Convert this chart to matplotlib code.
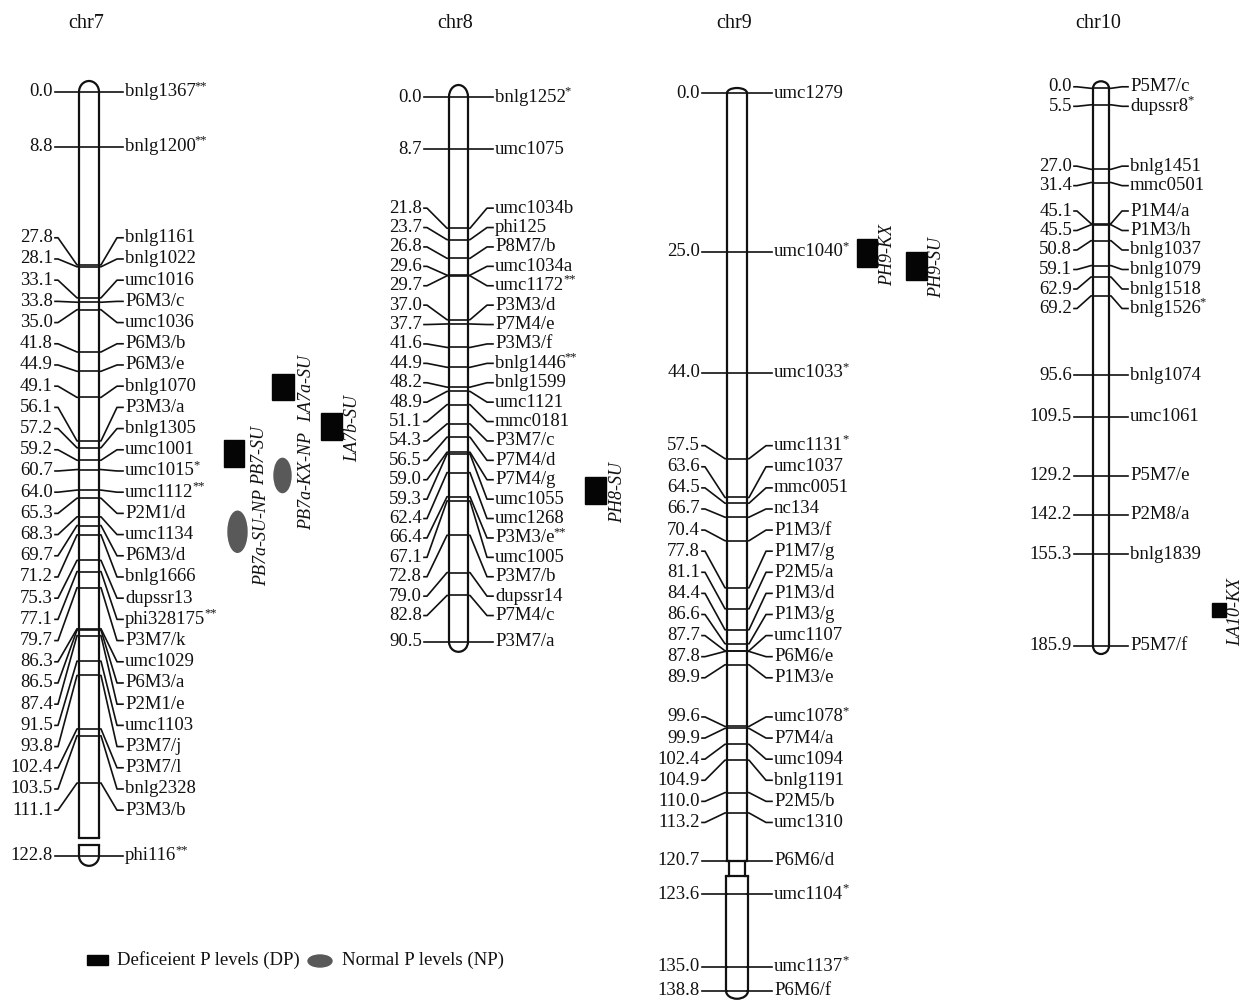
import matplotlib
matplotlib.use("Agg")
import matplotlib.pyplot as plt
from matplotlib.patches import Arc, Rectangle, Ellipse

plt.rcParams['font.family'] = ['Liberation Serif', 'DejaVu Serif']

# ---- map data (cM, marker name, significance stars) ----
chr7_pos = [0.0, 8.8, 27.8, 28.1, 33.1, 33.8, 35.0, 41.8, 44.9, 49.1, 56.1, 57.2, 59.2, 60.7,
            64.0, 65.3, 68.3, 69.7, 71.2, 75.3, 77.1, 79.7, 86.3, 86.5, 87.4, 91.5, 93.8,
            102.4, 103.5, 111.1, 122.8]
chr7_names = ['bnlg1367', 'bnlg1200', 'bnlg1161', 'bnlg1022', 'umc1016', 'P6M3/c', 'umc1036',
              'P6M3/b', 'P6M3/e', 'bnlg1070', 'P3M3/a', 'bnlg1305', 'umc1001', 'umc1015',
              'umc1112', 'P2M1/d', 'umc1134', 'P6M3/d', 'bnlg1666', 'dupssr13', 'phi328175',
              'P3M7/k', 'umc1029', 'P6M3/a', 'P2M1/e', 'umc1103', 'P3M7/j', 'P3M7/l',
              'bnlg2328', 'P3M3/b', 'phi116']
chr7_stars = ['**', '**', '', '', '', '', '', '', '', '', '', '', '', '*', '**', '', '', '', '',
              '', '**', '', '', '', '', '', '', '', '', '', '**']

chr8_pos = [0.0, 8.7, 21.8, 23.7, 26.8, 29.6, 29.7, 37.0, 37.7, 41.6, 44.9, 48.2, 48.9, 51.1,
            54.3, 56.5, 59.0, 59.3, 62.4, 66.4, 67.1, 72.8, 79.0, 82.8, 90.5]
chr8_names = ['bnlg1252', 'umc1075', 'umc1034b', 'phi125', 'P8M7/b', 'umc1034a', 'umc1172',
              'P3M3/d', 'P7M4/e', 'P3M3/f', 'bnlg1446', 'bnlg1599', 'umc1121', 'mmc0181',
              'P3M7/c', 'P7M4/d', 'P7M4/g', 'umc1055', 'umc1268', 'P3M3/e', 'umc1005',
              'P3M7/b', 'dupssr14', 'P7M4/c', 'P3M7/a']
chr8_stars = ['*', '', '', '', '', '', '**', '', '', '', '**', '', '', '', '', '', '', '', '',
              '**', '', '', '', '', '']

chr9_pos = [0.0, 25.0, 44.0, 57.5, 63.6, 64.5, 66.7, 70.4, 77.8, 81.1, 84.4, 86.6, 87.7, 87.8,
            89.9, 99.6, 99.9, 102.4, 104.9, 110.0, 113.2, 120.7, 123.6, 135.0, 138.8]
chr9_names = ['umc1279', 'umc1040', 'umc1033', 'umc1131', 'umc1037', 'mmc0051', 'nc134',
              'P1M3/f', 'P1M7/g', 'P2M5/a', 'P1M3/d', 'P1M3/g', 'umc1107', 'P6M6/e', 'P1M3/e',
              'umc1078', 'P7M4/a', 'umc1094', 'bnlg1191', 'P2M5/b', 'umc1310', 'P6M6/d',
              'umc1104', 'umc1137', 'P6M6/f']
chr9_stars = ['', '*', '*', '*', '', '', '', '', '', '', '', '', '', '', '', '*', '', '', '',
              '', '', '', '*', '*', '']

chr10_pos = [0.0, 5.5, 27.0, 31.4, 45.1, 45.5, 50.8, 59.1, 62.9, 69.2, 95.6, 109.5, 129.2,
             142.2, 155.3, 185.9]
chr10_names = ['P5M7/c', 'dupssr8', 'bnlg1451', 'mmc0501', 'P1M4/a', 'P1M3/h', 'bnlg1037',
               'bnlg1079', 'bnlg1518', 'bnlg1526', 'bnlg1074', 'umc1061', 'P5M7/e', 'P2M8/a',
               'bnlg1839', 'P5M7/f']
chr10_stars = ['', '*', '', '', '', '', '', '', '', '*', '', '', '', '', '', '']

# ---- QTL (chromosome, name, DP/NP, start cM, end cM) ----
qtl_chrom = ['chr7', 'chr7', 'chr7', 'chr7', 'chr7', 'chr8', 'chr9', 'chr9', 'chr10']
qtl_names = ['PB7-SU', 'LA7a-SU', 'LA7b-SU', 'PB7a-KX-NP', 'PB7a-SU-NP', 'PH8-SU', 'PH9-KX',
             'PH9-SU', 'LA10-KX']
qtl_kind = ['DP', 'DP', 'DP', 'NP', 'NP', 'DP', 'DP', 'DP', 'DP']
qtl_start = [56.0, 45.3, 51.6, 58.9, 67.4, 63.1, 23.0, 25.0, 171.6]
qtl_end = [60.3, 49.5, 56.0, 64.4, 74.0, 67.6, 27.4, 29.4, 176.2]

legend_labels = ['Deficeient P levels (DP)', 'Normal P levels (NP)']

# ---- layout (pixels) ----
layout = {
    'chr7': dict(pos=chr7_pos, names=chr7_names, stars=chr7_stars, left=79, w=20, top=92,
                 scale=6.22, gap=21.2, arm=24, cap=(11, 10),
                 segs=[(0.0, 120.0, 0), (121.0, 122.8, 0)], join=False),
    'chr8': dict(pos=chr8_pos, names=chr8_names, stars=chr8_stars, left=449, w=19, top=97,
                 scale=6.02, gap=19.4, arm=25, cap=(12, 10),
                 segs=[(0.0, 90.5, 0)], join=False),
    'chr9': dict(pos=chr9_pos, names=chr9_names, stars=chr9_stars, left=727, w=20, top=93,
                 scale=6.36, gap=21.1, arm=25, cap=(5, 8),
                 segs=[(0.0, 120.7, 0), (120.7, 138.8, 15)], join=True),
    'chr10': dict(pos=chr10_pos, names=chr10_names, stars=chr10_stars, left=1093, w=16,
                  top=88.3, scale=3.0, gap=19.5, arm=19, cap=(7, 8),
                  segs=[(0.0, 185.9, 0)], join=False),
}
qtl_x = [224, 272, 321, 274, 228, 585, 857, 906, 1212]
qtl_w = [20, 22, 21, 17, 19, 21, 20, 21, 14]
qtl_label_x = [260, 307, 353, 307, 262, 618, 888, 937, 1236]

INK = '#111111'
GREY = '#595959'
FS = 13.5


def cm_to_y(c, cm):
    off = 0
    for s0, s1, o in c['segs']:
        if cm > s0 or s0 == 0.0:
            off = o
    if cm <= c['segs'][0][1]:
        off = c['segs'][0][2]
    return c['top'] + cm * c['scale'] + off


def spread(desired, gap):
    # merge overlapping groups, each centred on the middle of its range
    groups = [[i] for i in range(len(desired))]

    def start(g):
        mid = (desired[g[0]] + desired[g[-1]]) / 2
        return mid - (len(g) - 1) * gap / 2

    merged = True
    while merged:
        merged = False
        for k in range(len(groups) - 1):
            end_a = start(groups[k]) + (len(groups[k]) - 1) * gap
            if start(groups[k + 1]) - end_a < gap - 1e-6:
                groups[k] = groups[k] + groups[k + 1]
                del groups[k + 1]
                merged = True
                break
    out = [0.0] * len(desired)
    for g in groups:
        s = start(g)
        for j, i in enumerate(g):
            out[i] = s + j * gap
    return out


fig = plt.figure(figsize=(12.46, 10), dpi=100)
ax = fig.add_axes([0, 0, 1, 1])
ax.set_xlim(0, 1246)
ax.set_ylim(1000, 0)
ax.axis('off')

lw_bar = 1.6
lw_tick = 1.2

for name, c in layout.items():
    bl = c['left']
    br = bl + c['w']
    cx = (bl + br) / 2
    ax.text(cx - 3, 23, name, fontsize=14.5, color=INK, ha='center', va='center')

    # chromosome outline, segment by segment
    segs = c['segs']
    for k, (s0, s1, o) in enumerate(segs):
        y0 = c['top'] + s0 * c['scale'] + o
        y1 = c['top'] + s1 * c['scale'] + o
        l, r = bl, br
        if k > 0 and c['join']:
            l, r = bl - 1, br + 1
        ax.plot([l, l], [y0, y1], color=INK, lw=lw_bar, solid_capstyle='butt')
        ax.plot([r, r], [y0, y1], color=INK, lw=lw_bar, solid_capstyle='butt')
        if k == 0:
            ax.add_patch(Arc((cx, y0), r - l, 2 * c['cap'][0], theta1=180, theta2=360,
                             color=INK, lw=lw_bar))
        else:
            ax.plot([l, r], [y0, y0], color=INK, lw=lw_bar)
        if k == len(segs) - 1:
            ax.add_patch(Arc((cx, y1), r - l, 2 * c['cap'][1], theta1=0, theta2=180,
                             color=INK, lw=lw_bar))
        else:
            ax.plot([l, r], [y1, y1], color=INK, lw=lw_bar)
            if c['join']:
                nxt = c['top'] + segs[k + 1][0] * c['scale'] + segs[k + 1][2]
                ax.plot([l + 2, l + 2], [y1, nxt], color=INK, lw=lw_bar)
                ax.plot([r - 2, r - 2], [y1, nxt], color=INK, lw=lw_bar)

    ticks = [cm_to_y(c, p) for p in c['pos']]
    labels = spread(ticks, c['gap'])
    arm = c['arm']
    for p, nm, st, ty, ly in zip(c['pos'], c['names'], c['stars'], ticks, labels):
        ax.plot([bl, br], [ty, ty], color=INK, lw=lw_tick)
        ax.plot([bl - arm, bl - arm + 3, bl - 2, bl], [ly, ly, ty, ty], color=INK, lw=lw_tick)
        ax.plot([br, br + 2, br + arm - 6, br + arm], [ty, ty, ly, ly], color=INK, lw=lw_tick)
        ax.text(bl - arm - 2, ly, '%.1f' % p, fontsize=FS, color=INK, ha='right', va='center')
        t = ax.text(br + arm + 2, ly, nm, fontsize=FS, color=INK, ha='left', va='center')
        if st:
            ax.annotate(st, xy=(1, 1), xycoords=t, xytext=(-0.8, 2.5), textcoords='offset points',
                        fontsize=9, color=INK, ha='left', va='top')

# QTL marks
for ch, nm, kind, s0, s1, x, w, lx in zip(qtl_chrom, qtl_names, qtl_kind, qtl_start, qtl_end,
                                          qtl_x, qtl_w, qtl_label_x):
    c = layout[ch]
    y0 = cm_to_y(c, s0)
    y1 = cm_to_y(c, s1)
    if kind == 'DP':
        ax.add_patch(Rectangle((x, y0), w, y1 - y0, facecolor='#050505', edgecolor='#050505'))
    else:
        ax.add_patch(Ellipse((x + w / 2, (y0 + y1) / 2), w, y1 - y0, facecolor=GREY,
                             edgecolor=GREY))
    ax.text(lx, (y0 + y1) / 2 + (6 if kind == 'NP' else 2), nm, fontsize=13, style='italic',
            color=INK, rotation=90, ha='center', va='center')

# legend
ax.add_patch(Rectangle((87, 955), 21, 10, facecolor='#050505', edgecolor='#050505'))
ax.text(117, 960, legend_labels[0], fontsize=FS, color=INK, ha='left', va='center')
ax.add_patch(Ellipse((320, 961), 24, 12, facecolor=GREY, edgecolor=GREY))
ax.text(342, 960, legend_labels[1], fontsize=FS, color=INK, ha='left', va='center')

fig.savefig('out.png', dpi=100)
